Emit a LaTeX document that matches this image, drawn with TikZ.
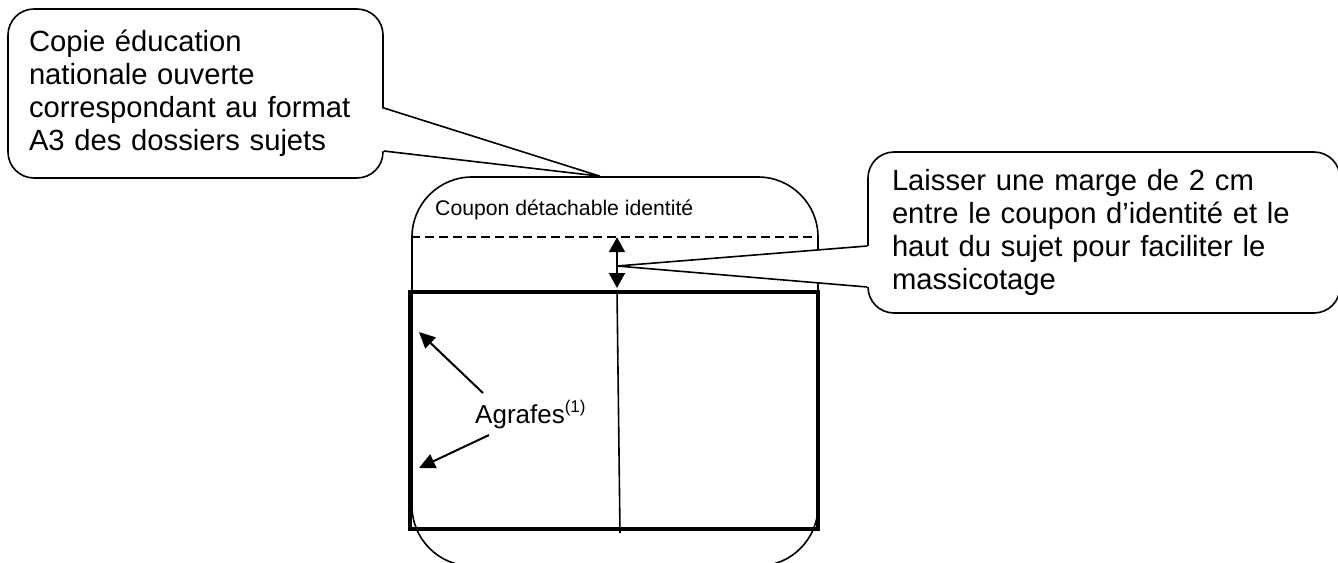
\documentclass[tikz,border=0pt]{standalone}
\usepackage{fontspec}
\setmainfont{Liberation Sans}
\usetikzlibrary{arrows.meta}

\begin{document}
\begin{tikzpicture}[x=1pt, y=-1pt,
	thin_line/.style={line width=1.6pt},
	note/.style={draw, thin_line, fill=white, rounded corners=26pt, inner sep=0pt,
		align=left, font=\fontsize{29.2}{33}\selectfont},
	staple_arrow/.style={-{Triangle[length=16pt,width=15pt]}, line width=2pt}]

	\useasboundingbox (0,0) rectangle (1338,562);
	\clip (0,0) rectangle (1338,562);

	% Node definitions.
	\node[draw, thin_line, rounded corners=60pt, minimum width=406pt, minimum height=389pt] (coupon) at (615,371.5) {};
	\node[draw, line width=4pt, minimum width=408pt, minimum height=237pt] (sheet) at (614,410.5) {};
	\node[note, minimum width=375pt, minimum height=169pt, text width=333pt] (copie_note) at (195.5,93.5)
		{Copie éducation\\nationale ouverte\\correspondant au format\\A3 des dossiers sujets\par\vspace{9.5pt}};
	\node[note, minimum width=472pt, minimum height=161pt, text width=424pt] (marge_note) at (1104,232.5)
		{Laisser une marge de 2 cm\\entre le coupon d’identité et le\\haut du sujet pour faciliter le\\massicotage\par\vspace{7.5pt}};
	\node[anchor=base west, inner sep=0pt, font=\fontsize{21.2}{24}\selectfont] (coupon_label) at (435,215) {Coupon détachable identité};
	\node[anchor=base west, inner sep=0pt, font=\fontsize{26}{30}\selectfont] (agrafes) at (475,423)
		{Agrafes\raisebox{11pt}{\fontsize{17}{17}\selectfont(1)}};
	\coordinate (copie_tip) at ([xshift=-15pt]coupon.north);
	\coordinate (marge_tip) at (617,266);
	\coordinate (agrafe_top) at (419,332);
	\coordinate (agrafe_bottom) at (419,468);

	% Callout tails.
	\fill[white] ([xshift=-3pt,yshift=-14.5pt]copie_note.east) -- (copie_tip) -- ([xshift=-3pt,yshift=-57.5pt]copie_note.east) -- cycle;
	\draw[thin_line] ([yshift=-14.5pt]copie_note.east) -- (copie_tip) -- ([yshift=-57.5pt]copie_note.east);
	\fill[white] ([xshift=3pt,yshift=-13.5pt]marge_note.west) -- (marge_tip) -- ([xshift=3pt,yshift=-54.5pt]marge_note.west) -- cycle;
	\draw[thin_line] ([yshift=-13.5pt]marge_note.west) -- (marge_tip) -- ([yshift=-54.5pt]marge_note.west);

	% Fold and cut lines.
	\draw[thin_line, dash pattern=on 9pt off 5pt] ([yshift=-61pt]coupon.north west) -- ([yshift=-61pt]coupon.north east);
	\draw[thin_line] (sheet.north -| marge_tip) -- ([xshift=3pt,yshift=-2pt]sheet.south -| marge_tip);

	% Arrows.
	\draw[{Triangle[length=15pt,width=16pt]}-{Triangle[length=15pt,width=16pt]}, line width=2pt]
		([yshift=-61pt]coupon.north -| marge_tip) -- ([yshift=2pt]sheet.north -| marge_tip);
	\draw[staple_arrow] ([xshift=8pt,yshift=21pt]agrafes.west) -- (agrafe_top);
	\draw[staple_arrow] ([xshift=14pt,yshift=-21pt]agrafes.west) -- (agrafe_bottom);

\end{tikzpicture}
\end{document}
